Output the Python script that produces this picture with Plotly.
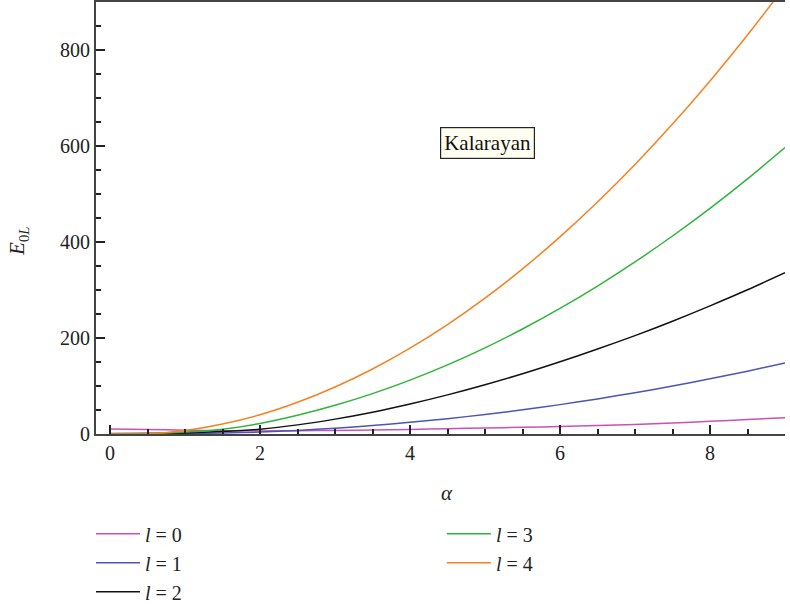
import plotly.graph_objects as go

alpha = [0, 0.5, 1, 1.5, 2, 2.5, 3, 3.5, 4, 4.5, 5, 5.5, 6, 6.5, 7, 7.5, 8, 8.5, 9]

e_l0 = [10.5, 9.5, 8, 7, 6.5, 7, 7.5, 8.5, 9.5, 11, 12.5, 14, 15.5, 17.5, 20, 23, 26.5, 30, 34]
e_l1 = [1, 0.8, 1, 2, 4, 7.5, 12, 17.6, 24.3, 31.9, 40.7, 50.4, 61.2, 73.1, 86, 99.9, 114.9, 130.9, 148]
e_l2 = [0.5, 1, 2, 5, 10, 19, 31, 45.5, 62.5, 81.5, 102.5, 125.5, 150.5, 177, 205, 235, 267, 300.5, 336]
e_l3 = [0.5, 1, 4, 10, 22, 39, 59.7, 84.1, 112.2, 144, 179.5, 218.7, 261.6, 308.2, 358.5, 412.5, 470.2, 531.6, 596.7]
e_l4 = [0, 0.5, 7.5, 21, 40, 66, 97.8, 135.4, 178.8, 228, 283.1, 344, 410.7, 483.2, 561.5, 645.6, 735.5, 831.2, 932.7]

labels = ["<i>l</i> = 0", "<i>l</i> = 1", "<i>l</i> = 2", "<i>l</i> = 3", "<i>l</i> = 4"]
colors = ["#cc50b8", "#4a55b5", "#111111", "#2db53a", "#f58220"]
series = [e_l0, e_l1, e_l2, e_l3, e_l4]
legend_ids = ["legend", "legend", "legend", "legend2", "legend2"]

x_ticks = [0, 2, 4, 6, 8]
y_ticks = [0, 200, 400, 600, 800]

FONT = "Liberation Serif, DejaVu Serif, serif"

fig = go.Figure()
for lab, col, ys, lg in zip(labels, colors, series, legend_ids):
    fig.add_trace(go.Scatter(
        x=alpha, y=ys, mode="lines", name=lab,
        line=dict(color=col, width=1.5, shape="spline", smoothing=0.8),
        legend=lg,
    ))

axis_common = dict(
    showline=True, linecolor="#444444", linewidth=2,
    ticks="inside", tickcolor="#222222", tickwidth=1.5, ticklen=9,
    showgrid=False, zeroline=False, automargin=False,
    tickfont=dict(family=FONT, size=20, color="#222222"),
)

fig.update_layout(
    width=790, height=604,
    margin=dict(l=96, r=5, t=2, b=170, autoexpand=False),
    plot_bgcolor="white", paper_bgcolor="white",
    font=dict(family=FONT, size=20, color="#222222"),
    xaxis=dict(range=[-0.187, 9.0], tickvals=x_ticks, mirror=True,
               minor=dict(dtick=0.5, tick0=0, ticks="inside", ticklen=5, tickcolor="#222222", tickwidth=1.5),
               **axis_common),
    yaxis=dict(range=[0, 900], tickvals=y_ticks, mirror=False,
               minor=dict(dtick=50, tick0=0, ticks="inside", ticklen=5, tickcolor="#222222", tickwidth=1.5),
               **axis_common),
    legend=dict(x=-0.0073, y=-0.186, xanchor="left", yanchor="top", orientation="v",
                itemwidth=44, font=dict(family=FONT, size=20), bgcolor="rgba(0,0,0,0)", tracegroupgap=0),
    legend2=dict(x=0.502, y=-0.186, xanchor="left", yanchor="top", orientation="v",
                 itemwidth=44, font=dict(family=FONT, size=20), bgcolor="rgba(0,0,0,0)", tracegroupgap=0),
    showlegend=True,
)

fig.add_annotation(x=5.03, y=607, xref="x", yref="y", text="Kalarayan", showarrow=False,
                   xanchor="center", yanchor="middle",
                   font=dict(family=FONT, size=21, color="#111111"),
                   bgcolor="#fffff2", bordercolor="#222222", borderwidth=1.2, borderpad=3)
fig.add_annotation(xref="paper", yref="paper", x=-0.113, y=0.445, text="<i>E</i><sub>0<i>L</i></sub>",
                   xanchor="center", yanchor="middle",
                   showarrow=False, textangle=-90, font=dict(family=FONT, size=21, color="#222222"))
fig.add_annotation(xref="paper", yref="paper", x=0.509, y=-0.137, text="<i>α</i>",
                   xanchor="center", yanchor="middle",
                   showarrow=False, font=dict(family=FONT, size=21, color="#222222"))

fig.write_html("out.html", config={"displayModeBar": False},
               post_script="document.body.style.margin='0';document.body.style.padding='0';document.body.style.overflow='hidden';")
